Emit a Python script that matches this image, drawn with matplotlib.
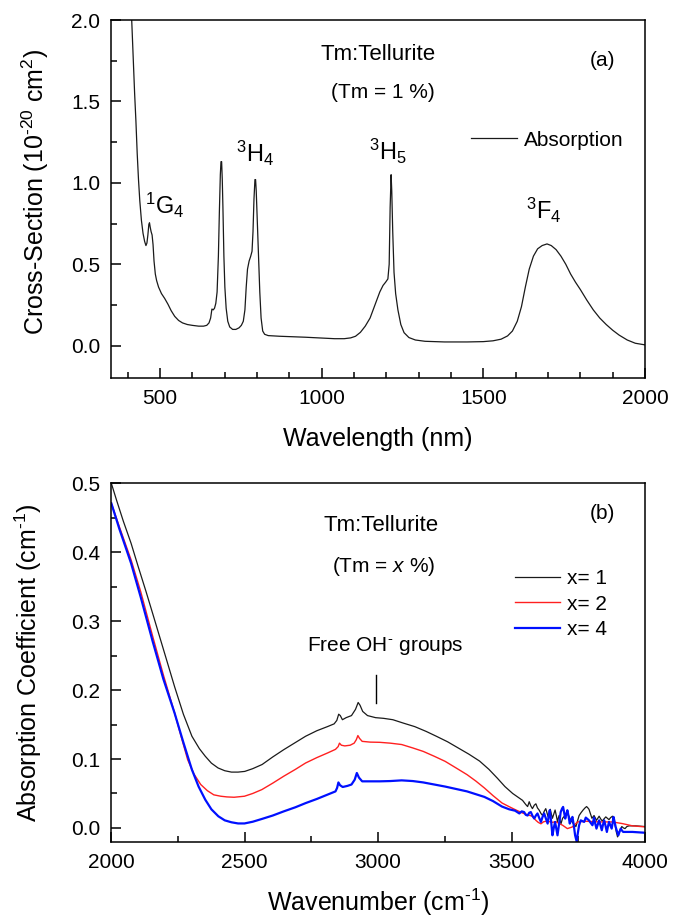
import matplotlib
matplotlib.use('Agg')
import matplotlib.pyplot as plt
from matplotlib.ticker import MultipleLocator

plt.rcParams['font.family'] = 'Liberation Sans'
plt.rcParams['mathtext.fontset'] = 'custom'
plt.rcParams['mathtext.rm'] = 'Liberation Sans'
plt.rcParams['mathtext.it'] = 'Liberation Sans:italic'
plt.rcParams['mathtext.default'] = 'regular'

# (a) absorption cross-section, Tm = 1 %
wavelength = [408, 413, 418, 422, 426, 430, 434, 438, 443, 448, 453, 457, 460, 463, 466, 468,
              470, 473, 476, 479, 482, 486, 490, 496, 505, 515, 525, 535, 546, 558, 570, 585,
              600, 620, 635, 645, 652, 657, 661, 665, 669, 673, 677, 681, 684, 687, 689, 691,
              693, 695, 698, 701, 705, 710, 716, 725, 735, 745, 752, 758, 763, 767, 771, 776,
              781, 785, 788, 791, 794, 796, 798, 801, 805, 809, 813, 818, 824, 835, 870, 950,
              1000, 1040, 1070, 1090, 1105, 1120, 1135, 1150, 1165, 1180, 1190, 1198, 1205, 1209,
              1212, 1215, 1217, 1220, 1224, 1229, 1236, 1245, 1255, 1270, 1290, 1320, 1380, 1450,
              1500, 1530, 1555, 1575, 1590, 1605, 1618, 1630, 1642, 1655, 1668, 1682, 1697, 1710,
              1725, 1740, 1755, 1770, 1785, 1800, 1820, 1840, 1860, 1880, 1900, 1920, 1945, 1970,
              2000]
cross_section = [2.30, 2.00, 1.75, 1.55, 1.38, 1.18, 1.02, 0.89, 0.77, 0.69, 0.64, 0.615, 0.63,
                 0.68, 0.745, 0.755, 0.73, 0.70, 0.68, 0.62, 0.52, 0.44, 0.40, 0.36, 0.32, 0.29,
                 0.255, 0.215, 0.18, 0.155, 0.14, 0.13, 0.125, 0.12, 0.12, 0.125, 0.14, 0.17,
                 0.225, 0.22, 0.23, 0.26, 0.33, 0.55, 0.82, 1.05, 1.13, 1.13, 1.02, 0.85, 0.55,
                 0.36, 0.23, 0.15, 0.115, 0.10, 0.10, 0.11, 0.125, 0.15, 0.22, 0.36, 0.47, 0.52,
                 0.55, 0.58, 0.70, 0.90, 1.02, 1.02, 0.95, 0.78, 0.55, 0.33, 0.17, 0.09, 0.07,
                 0.062, 0.058, 0.052, 0.047, 0.043, 0.043, 0.048, 0.058, 0.082, 0.12, 0.17, 0.25,
                 0.33, 0.37, 0.39, 0.41, 0.50, 0.85, 1.05, 0.95, 0.70, 0.45, 0.32, 0.22, 0.13,
                 0.08, 0.05, 0.035, 0.027, 0.023, 0.023, 0.025, 0.03, 0.04, 0.06, 0.09, 0.15,
                 0.24, 0.36, 0.47, 0.55, 0.595, 0.615, 0.625, 0.615, 0.59, 0.55, 0.50, 0.44,
                 0.39, 0.345, 0.28, 0.22, 0.17, 0.13, 0.095, 0.065, 0.035, 0.015, 0.005]

# (b) absorption coefficient, x = 1, 2, 4
wn_1 = [2000, 2020, 2045, 2074, 2100, 2130, 2155, 2185, 2210, 2237, 2270, 2302, 2330, 2352, 2375,
        2400, 2425, 2450, 2475, 2500, 2530, 2565, 2605, 2646, 2690, 2728, 2770, 2810, 2835, 2845,
        2852, 2858, 2866, 2880, 2900, 2915, 2925, 2932, 2942, 2960, 2990, 3020, 3055, 3095, 3137,
        3180, 3218, 3260, 3300, 3340, 3380, 3415, 3447, 3475, 3504, 3530, 3541, 3553, 3560, 3566,
        3572, 3578, 3585, 3591, 3597, 3603, 3610, 3616, 3622, 3628, 3633, 3637, 3641, 3645, 3649,
        3653, 3658, 3663, 3668, 3672, 3675, 3678, 3681, 3685, 3688, 3691, 3700, 3710, 3716, 3722,
        3732, 3741, 3747, 3753, 3760, 3768, 3775, 3781, 3786, 3790, 3796, 3801, 3805, 3809, 3814,
        3818, 3823, 3828, 3834, 3840, 3846, 3853, 3859, 3865, 3871, 3878, 3883, 3888, 3892, 3897,
        3900, 3903, 3908, 3913, 3919, 3925, 3932, 3940, 3965, 4000]
alpha_1 = [0.500, 0.475, 0.445, 0.413, 0.380, 0.343, 0.311, 0.272, 0.240, 0.205, 0.165, 0.133,
           0.115, 0.104, 0.094, 0.087, 0.083, 0.081, 0.081, 0.082, 0.086, 0.092, 0.103, 0.1135,
           0.124, 0.133, 0.141, 0.147, 0.151, 0.156, 0.165, 0.163, 0.157, 0.160, 0.163, 0.172,
           0.182, 0.178, 0.169, 0.163, 0.160, 0.159, 0.157, 0.152, 0.147, 0.140, 0.133, 0.125,
           0.116, 0.107, 0.097, 0.085, 0.072, 0.060, 0.050, 0.043, 0.040, 0.034, 0.031, 0.038,
           0.032, 0.028, 0.033, 0.035, 0.029, 0.026, 0.021, 0.018, 0.024, 0.028, 0.021, 0.016,
           0.022, 0.027, 0.020, 0.014, 0.020, 0.026, 0.017, 0.009, 0.014, 0.018, 0.012, 0.006,
           0.010, 0.014, 0.018, 0.021, 0.016, 0.011, 0.006, 0.002, 0.010, 0.018, 0.022, 0.026,
           0.029, 0.031, 0.029, 0.027, 0.020, 0.014, 0.016, 0.018, 0.014, 0.011, 0.014, 0.017,
           0.013, 0.010, 0.013, 0.016, 0.014, 0.012, 0.015, 0.017, 0.012, 0.004, -0.005, -0.013,
           -0.010, -0.006, -0.002, 0.002, 0.000, -0.001, 0.002, 0.003, 0.003, 0.002]

wn_2 = [2000, 2030, 2074, 2110, 2155, 2195, 2237, 2262, 2286, 2310, 2335, 2360, 2384, 2410, 2433,
        2460, 2499, 2530, 2564, 2605, 2646, 2690, 2728, 2770, 2810, 2840, 2850, 2855, 2862, 2875,
        2895, 2910, 2918, 2924, 2930, 2940, 2970, 3006, 3045, 3088, 3130, 3169, 3210, 3251, 3292,
        3333, 3366, 3398, 3430, 3464, 3490, 3513, 3545, 3578, 3591, 3600, 3610, 3620, 3635, 3650,
        3666, 3680, 3691, 3709, 3728, 3747, 3778, 3828, 3878, 3915, 3953, 4000]
alpha_2 = [0.471, 0.437, 0.389, 0.343, 0.278, 0.222, 0.167, 0.132, 0.099, 0.078, 0.063, 0.054,
           0.048, 0.046, 0.045, 0.0445, 0.046, 0.050, 0.0556, 0.065, 0.075, 0.085, 0.0942, 0.102,
           0.1087, 0.114, 0.118, 0.123, 0.120, 0.119, 0.120, 0.123, 0.128, 0.134, 0.130, 0.1256,
           0.1245, 0.1242, 0.123, 0.121, 0.116, 0.111, 0.104, 0.0966, 0.087, 0.0773, 0.068, 0.058,
           0.047, 0.0362, 0.031, 0.0266, 0.021, 0.0169, 0.011, 0.008, 0.006, 0.009, 0.010, 0.008,
           0.009, 0.006, 0.0039, -0.001, 0.0015, 0.0087, 0.0097, 0.0087, 0.0087, 0.0063, 0.003,
           0.0015]

wn_4 = [2000, 2030, 2074, 2110, 2155, 2195, 2237, 2270, 2302, 2327, 2352, 2375, 2401, 2425, 2450,
        2475, 2499, 2530, 2564, 2605, 2646, 2690, 2728, 2770, 2810, 2840, 2846, 2851, 2857, 2867,
        2885, 2900, 2912, 2920, 2928, 2940, 2970, 3006, 3045, 3088, 3130, 3169, 3210, 3251, 3292,
        3333, 3366, 3398, 3430, 3464, 3491, 3513, 3529, 3538, 3547, 3553, 3560, 3566, 3572, 3579,
        3585, 3591, 3597, 3604, 3610, 3616, 3622, 3628, 3635, 3639, 3643, 3648, 3653, 3658, 3663,
        3667, 3672, 3678, 3684, 3689, 3693, 3697, 3701, 3705, 3709, 3714, 3718, 3723, 3728, 3733,
        3738, 3744, 3748, 3753, 3759, 3765, 3772, 3778, 3784, 3790, 3797, 3803, 3809, 3813, 3818,
        3823, 3828, 3833, 3838, 3842, 3847, 3852, 3857, 3861, 3865, 3870, 3875, 3879, 3882, 3886,
        3890, 3895, 3900, 3905, 3909, 3914, 3918, 3928, 3953, 4000]
alpha_4 = [0.471, 0.434, 0.384, 0.335, 0.2705, 0.216, 0.1667, 0.124, 0.0845, 0.060, 0.041, 0.027,
           0.0169, 0.011, 0.0082, 0.0065, 0.0065, 0.009, 0.013, 0.018, 0.024, 0.030, 0.036, 0.042,
           0.0483, 0.053, 0.058, 0.066, 0.062, 0.0594, 0.061, 0.063, 0.070, 0.0797, 0.073, 0.0676,
           0.0676, 0.0676, 0.068, 0.069, 0.068, 0.066, 0.063, 0.060, 0.0565, 0.053, 0.049, 0.045,
           0.039, 0.031, 0.027, 0.025, 0.021, 0.024, 0.023, 0.019, 0.018, 0.022, 0.023, 0.017,
           0.0136, 0.018, 0.021, 0.014, 0.0087, 0.016, 0.021, 0.014, 0.0063, 0.017, 0.0257, 0.010,
           -0.0107, 0.000, 0.0087, 0.000, -0.0107, 0.006, 0.023, 0.028, 0.0305, 0.022, 0.0136,
           0.020, 0.0257, 0.016, 0.0063, 0.012, 0.016, 0.004, -0.0107, -0.020, -0.008, 0.0039,
           0.011, 0.010, 0.0087, 0.015, 0.013, 0.011, 0.007, 0.0039, 0.015, 0.007, -0.001, 0.005,
           0.011, 0.004, -0.0034, 0.004, 0.011, 0.003, -0.0058, 0.002, 0.0087, 0.004, -0.001,
           0.008, 0.016, 0.009, 0.0015, -0.005, -0.0107, -0.005, -0.001, -0.004, -0.0058, -0.0058,
           -0.0058, -0.007]

oh_marker_x = [2990, 2990]
oh_marker_y = [0.181, 0.222]


def style_axes(ax):
    for s in ax.spines.values():
        s.set_linewidth(1.1)
    ax.tick_params(which='both', direction='in', top=False, right=False, labelsize=15,
                   width=1.1, pad=8)
    ax.tick_params(which='major', length=7)
    ax.tick_params(which='minor', length=4)


fig = plt.figure(figsize=(6.83, 9.19), dpi=100)

# ---- panel (a)
ax1 = fig.add_axes([0.163, 0.5884, 0.7814, 0.3898])
ax1.plot(wavelength, cross_section, color='#1a1a1a', lw=0.9, label='Absorption')
ax1.set_xlim(350, 2000)
ax1.set_ylim(-0.2, 2.0)
ax1.xaxis.set_major_locator(MultipleLocator(500))
ax1.xaxis.set_minor_locator(MultipleLocator(100))
ax1.yaxis.set_major_locator(MultipleLocator(0.5))
ax1.yaxis.set_minor_locator(MultipleLocator(0.25))
style_axes(ax1)
ax1.set_xlabel('Wavelength (nm)', fontsize=18)
ax1.set_ylabel(r'Cross-Section (10$^{\text{-20}}$ cm$^{2}$)', fontsize=18)
ax1.xaxis.set_label_coords(0.5, -0.135)
ax1.yaxis.set_label_coords(-0.113, 0.52)
ax1.text(1175, 1.788, 'Tm:Tellurite', fontsize=16, ha='center', va='center')
ax1.text(1191, 1.552, '(Tm = 1 %)', fontsize=15, ha='center', va='center')
ax1.text(1869, 1.754, '(a)', fontsize=15, ha='center', va='center')
ax1.text(516, 0.864, r'$^{1}$G$_{4}$', fontsize=17, ha='center', va='center')
ax1.text(794, 1.183, r'$^{3}$H$_{4}$', fontsize=17, ha='center', va='center')
ax1.text(1206, 1.19, r'$^{3}$H$_{5}$', fontsize=17, ha='center', va='center')
ax1.text(1688, 0.833, r'$^{3}$F$_{4}$', fontsize=17, ha='center', va='center')
ax1.legend(loc='center left', bbox_to_anchor=(0.673, 0.665), frameon=False, fontsize=15,
           handlelength=2.25, handletextpad=0.3, borderpad=0, borderaxespad=0)

# ---- panel (b)
ax2 = fig.add_axes([0.163, 0.0841, 0.7814, 0.39])
ax2.plot(wn_1, alpha_1, color='#1a1a1a', lw=0.9, label='x= 1')
ax2.plot(wn_2, alpha_2, color='#ff2020', lw=1.0, label='x= 2')
ax2.plot(wn_4, alpha_4, color='#0010ff', lw=1.6, label='x= 4')
ax2.plot(oh_marker_x, oh_marker_y, color='k', lw=1.0)
ax2.set_xlim(2000, 4000)
ax2.set_ylim(-0.02, 0.5)
ax2.xaxis.set_major_locator(MultipleLocator(500))
ax2.xaxis.set_minor_locator(MultipleLocator(250))
ax2.yaxis.set_major_locator(MultipleLocator(0.1))
ax2.yaxis.set_minor_locator(MultipleLocator(0.05))
style_axes(ax2)
ax2.set_xlabel(r'Wavenumber (cm$^{\text{-1}}$)', fontsize=18)
ax2.set_ylabel(r'Absorption Coefficient (cm$^{\text{-1}}$)', fontsize=18)
ax2.xaxis.set_label_coords(0.5, -0.125)
ax2.yaxis.set_label_coords(-0.126, 0.5)
ax2.text(3010, 0.4394, 'Tm:Tellurite', fontsize=16, ha='center', va='center')
ax2.text(3021, 0.38, r'(Tm = $\it{x}$ %)', fontsize=15, ha='center', va='center')
ax2.text(3842, 0.4564, '(b)', fontsize=15, ha='center', va='center')
ax2.text(3027, 0.2642, r'Free OH$^{\text{-}}$ groups', fontsize=15, ha='center', va='center')
ax2.legend(loc='center left', bbox_to_anchor=(0.7556, 0.663), frameon=False, fontsize=15,
           handlelength=2.2, handletextpad=0.3, labelspacing=0.32, borderpad=0, borderaxespad=0)

fig.savefig('out.png', dpi=100)
